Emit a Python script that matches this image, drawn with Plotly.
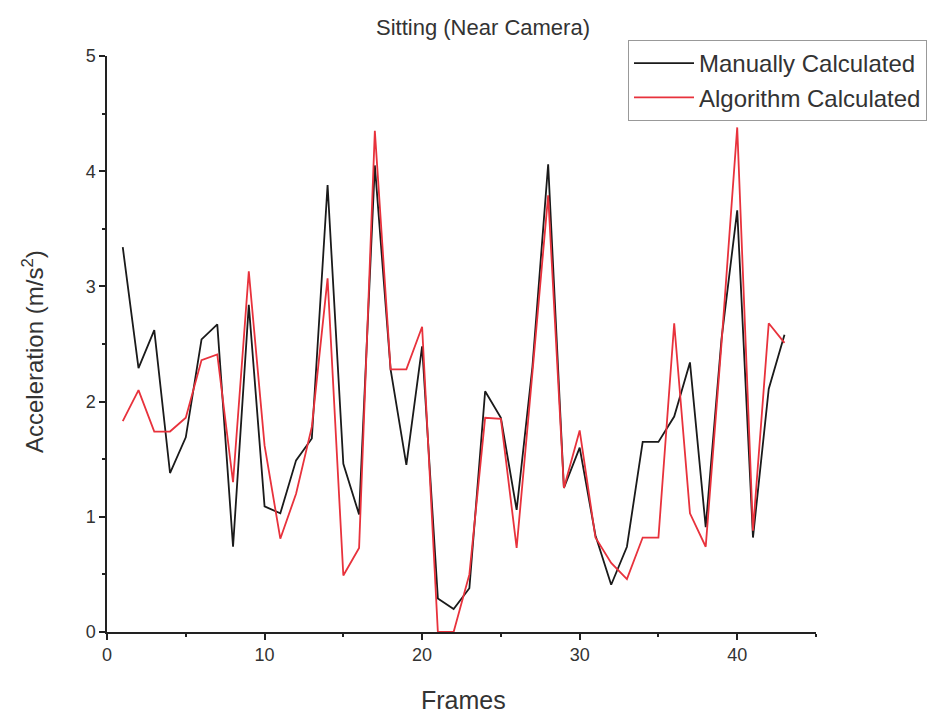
import plotly.graph_objects as go

frames = list(range(1, 44))
manual = [3.34, 2.29, 2.62, 1.38, 1.69, 2.54, 2.67, 0.74, 2.84, 1.09,
          1.03, 1.49, 1.68, 3.88, 1.46, 1.02, 4.05, 2.28, 1.45, 2.48,
          0.29, 0.20, 0.38, 2.09, 1.86, 1.06, 2.30, 4.06, 1.25, 1.60,
          0.84, 0.41, 0.74, 1.65, 1.65, 1.87, 2.34, 0.91, 2.54, 3.66,
          0.82, 2.11, 2.58]
algorithm = [1.83, 2.10, 1.74, 1.74, 1.86, 2.36, 2.41, 1.30, 3.13, 1.62,
             0.81, 1.20, 1.78, 3.07, 0.49, 0.73, 4.35, 2.28, 2.28, 2.65,
             0.00, 0.00, 0.50, 1.86, 1.85, 0.73, 2.25, 3.79, 1.25, 1.75,
             0.82, 0.60, 0.46, 0.82, 0.82, 2.68, 1.03, 0.74, 2.50, 4.38,
             0.88, 2.68, 2.51]

FONT = "Liberation Sans, Arial, sans-serif"
W, H = 951, 715
L, R, T, B = 107, 135, 56, 83

fig = go.Figure()
fig.add_trace(go.Scatter(x=frames, y=manual, mode="lines", name="Manually Calculated",
                         line=dict(color="#1a1a1a", width=1.8)))
fig.add_trace(go.Scatter(x=frames, y=algorithm, mode="lines", name="Algorithm Calculated",
                         line=dict(color="#e8323c", width=1.8)))

axis_common = dict(
    showline=True, linecolor="#222222", linewidth=1.5, mirror=False,
    ticks="outside", ticklen=6, tickwidth=1.5, tickcolor="#222222",
    showgrid=False, zeroline=False, automargin=False,
    tickfont=dict(family=FONT, size=18, color="#333333"),
)

pw, ph = W - L - R, H - T - B

fig.update_layout(
    width=W, height=H,
    margin=dict(l=L, r=R, t=T, b=B),
    paper_bgcolor="white", plot_bgcolor="white",
    title=dict(text="Sitting (Near Camera)", x=483/W, xanchor="center",
               y=1 - 27/H, yanchor="middle",
               font=dict(family=FONT, size=22, color="#333333")),
    xaxis=dict(range=[0, 45], tickvals=[0, 10, 20, 30, 40],
               minor=dict(tickvals=[5, 15, 25, 35, 45], ticklen=3, tickwidth=1.5,
                          tickcolor="#222222", ticks="outside"),
               **axis_common),
    yaxis=dict(range=[0, 5], tickvals=[0, 1, 2, 3, 4, 5],
               minor=dict(tickvals=[0.5, 1.5, 2.5, 3.5, 4.5], ticklen=3, tickwidth=1.5,
                          tickcolor="#222222", ticks="outside"),
               **axis_common),
    legend=dict(x=(628 - L) / pw, y=(H - B - 40) / ph, xanchor="left", yanchor="top",
                bordercolor="#999999", borderwidth=1, bgcolor="white",
                itemwidth=60, tracegroupgap=0,
                font=dict(family=FONT, size=24, color="#333333")),
    showlegend=True,
    annotations=[
        dict(text="Frames", xref="paper", yref="paper",
             x=(463 - L) / pw, y=-(700 - (H - B)) / ph, xanchor="center", yanchor="middle",
             showarrow=False, font=dict(family=FONT, size=25, color="#333333")),
        dict(text="Acceleration (m/s<sup>2</sup>)", xref="paper", yref="paper",
             x=-(L - 33) / pw, y=(H - B - 352) / ph, xanchor="center", yanchor="middle",
             textangle=-90, showarrow=False,
             font=dict(family=FONT, size=24, color="#333333")),
    ],
)

fig.write_html("out.html")
